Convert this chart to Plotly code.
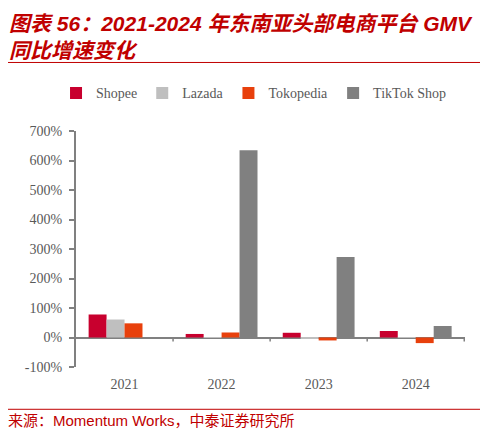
import plotly.graph_objects as go

# 数据（%）
years = ["2021", "2022", "2023", "2024"]
shopee = [78, 12, 16, 22]
lazada = [61, 1, -2, 1]
tokopedia = [48, 17, -10, -19]
tiktok = [0, 635, 273, 39]
y_ticks = [-100, 0, 100, 200, 300, 400, 500, 600, 700]
y_ticktext = ["-100%", "0%", "100%", "200%", "300%", "400%", "500%", "600%", "700%"]

# 页面 body 默认有 8px 外边距，图的尺寸与坐标都减去它
OFF = 8
W, H = 488 - OFF, 433 - OFF
# 绘图区在截图中的像素位置
L, R, T, B = 76 - OFF, 465.5 - OFF, 130.7 - OFF, 367.3 - OFF

RED = "#C00000"
GRAY = "#808080"
TXT = "#595959"


def px_x(x):
    # 截图像素 -> paper 坐标
    return (x - OFF - L) / (R - L)


def px_y(y):
    return (B - (y - OFF)) / (B - T)


fig = go.Figure()
series = [
    ("Shopee", shopee, "#C8002E"),
    ("Lazada", lazada, "#BFBFBF"),
    ("Tokopedia", tokopedia, "#E8400C"),
    ("TikTok Shop", tiktok, "#808080"),
]
for name, vals, color in series:
    fig.add_trace(go.Bar(x=years, y=vals, name=name, marker=dict(color=color, line=dict(width=0))))

fig.update_layout(
    width=W, height=H,
    margin=dict(l=L, r=W - R, t=T, b=H - B, autoexpand=False),
    paper_bgcolor="white", plot_bgcolor="white",
    barmode="group", bargap=0.26, bargroupgap=0,
    font=dict(family="Liberation Serif, Times New Roman, serif", size=14, color=TXT),
    legend=dict(
        orientation="h", xref="paper", yref="paper",
        x=px_x(56), xanchor="left", y=px_y(93), yanchor="middle",
        font=dict(size=14, color=TXT), itemwidth=30, tracegroupgap=0,
    ),
    showlegend=True,
)

fig.update_xaxes(
    showline=False, showgrid=False, ticks="", zeroline=False,
    tickfont=dict(size=14, color=TXT), ticklabelstandoff=7,
)
fig.update_yaxes(
    range=[-100, 700], tickvals=y_ticks, ticktext=y_ticktext,
    showline=True, linecolor=GRAY, linewidth=2,
    ticks="outside", ticklen=5, tickcolor=GRAY, tickwidth=1.5,
    showgrid=False, zeroline=True, zerolinecolor=GRAY, zerolinewidth=2,
    tickfont=dict(size=14, color=TXT), ticklabelstandoff=4,
)

# 类别分界处的小刻度
for b in [0.5, 1.5, 2.5, 3.5]:
    fig.add_shape(type="line", xref="x", yref="y", x0=b, x1=b, ysizemode="pixel", yanchor=0,
                  y0=0, y1=-4, line=dict(color=GRAY, width=1.5))

# 标题上下的红线及来源线
for y, w in [(6, 2.5), (62, 1), (409.7, 1)]:
    fig.add_shape(type="line", xref="paper", yref="paper", x0=px_x(5), x1=px_x(483),
                  y0=px_y(y), y1=px_y(y), line=dict(color=RED, width=w))

title_font = dict(family="Liberation Sans, Arial, Noto Sans CJK SC", size=21, color=RED,
                  weight="bold", style="italic")
fig.add_annotation(text="图表 56：2021-2024 年东南亚头部电商平台 GMV", xref="paper", yref="paper",
                   x=px_x(7), y=px_y(23), xanchor="left", yanchor="middle", showarrow=False,
                   font=title_font)
fig.add_annotation(text="同比增速变化", xref="paper", yref="paper",
                   x=px_x(7), y=px_y(50), xanchor="left", yanchor="middle", showarrow=False,
                   font=title_font)
fig.add_annotation(text="来源：Momentum Works，中泰证券研究所", xref="paper", yref="paper",
                   x=px_x(6), y=px_y(421), xanchor="left", yanchor="middle", showarrow=False,
                   font=dict(family="Liberation Sans, Arial, Noto Sans CJK SC", size=15, color=RED))

fig.write_html("out.html")
